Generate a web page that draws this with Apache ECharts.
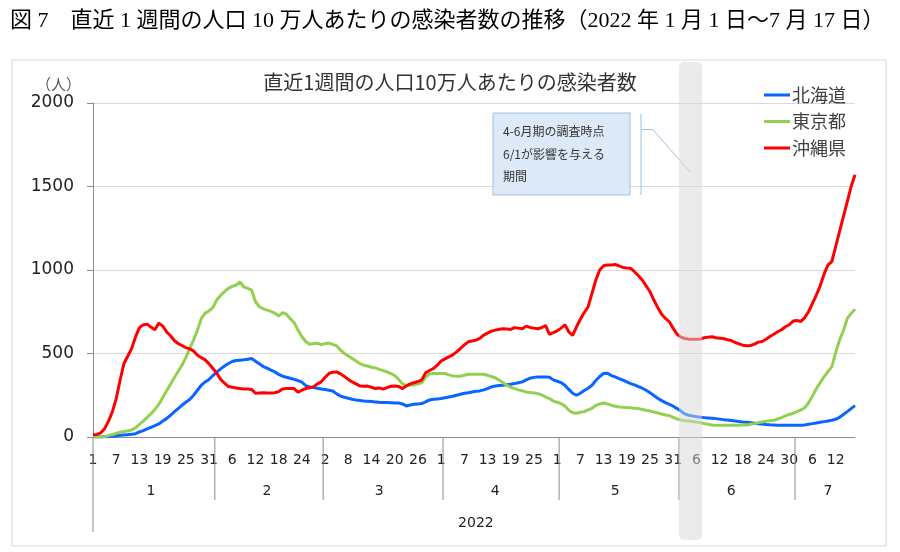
<!DOCTYPE html>
<html><head><meta charset="utf-8">
<script src="https://cdn.jsdelivr.net/npm/echarts@6/dist/echarts.min.js"></script>
<style>html,body{margin:0;padding:0;background:#fff}#c{width:900px;height:552px}</style>
</head><body><div id="c"></div>
<script>
// ---- data ----
const captionText = '図 7　直近 1 週間の人口 10 万人あたりの感染者数の推移（2022 年 1 月 1 日～7 月 17 日）';
const chartTitle = '直近1週間の人口10万人あたりの感染者数';
const yUnit = '（人）';
const monthNames = ['1','2','3','4','5','6','7'];
const monthDays = [31,28,31,30,31,30,17];
const monthLabelDay = [16,15,16,15,16,15,10];
const yearLabel = '2022';
const yearLabelDate = '4/10';
const bandStart = '6/1';
const bandEnd = '6/7';
const noteLines = ['4-6月期の調査時点','6/1が影響を与える','期間'];
const seriesNames = ['北海道','東京都','沖縄県'];
const seriesColors = ['#0a64ff','#92d050','#ff0000'];
const yMin = 0, yMax = 2000, yInterval = 500;

const hokkaido = [0,0,0,1,2,4,7,10,12,14,
16,20,30,38,48,58,68,78,95,110,
130,150,170,190,208,225,250,280,310,330,
345,368,388,408,425,440,452,458,460,462,
466,470,454,438,422,412,400,390,375,364,
358,352,345,338,328,308,300,296,292,288,
284,280,275,258,245,238,232,226,222,219,
216,214,212,210,208,207,206,205,204,204,
198,186,192,196,198,200,210,222,226,228,
230,235,240,244,250,256,262,265,270,274,
276,282,290,300,305,308,310,313,316,320,
325,330,342,352,357,360,360,360,358,342,
334,326,310,285,262,250,262,278,292,310,
338,362,380,382,368,360,350,340,330,320,
312,302,292,280,265,248,232,218,206,196,
184,170,155,138,130,126,122,118,116,114,
112,110,107,104,102,99,96,93,90,88,
86,83,80,78,75,73,72,71,70,70,
70,70,70,71,72,76,80,84,88,92,
96,100,106,118,135,152,170,188];

const tokyo = [0,0,0,2,8,15,22,28,33,37,
42,55,75,95,118,140,165,195,235,275,
315,355,392,430,475,530,580,640,710,742,
755,775,822,848,870,890,902,910,928,898,
890,880,810,780,768,760,752,742,725,744,
735,708,685,640,600,572,556,560,562,552,
560,562,555,546,520,500,485,470,455,440,
430,425,418,414,405,398,390,380,368,345,
318,310,310,312,318,325,358,378,380,380,
380,380,372,366,364,364,370,376,376,376,
376,376,370,362,355,340,325,310,298,290,
282,276,270,266,263,260,252,240,230,215,
208,200,185,160,145,142,148,152,162,172,
188,198,204,198,190,184,180,178,176,175,
172,170,165,160,156,150,144,138,132,128,
118,108,102,98,96,93,90,86,80,76,
72,71,70,70,70,70,70,71,72,72,
76,80,86,90,94,98,100,108,116,126,
135,142,152,162,175,205,245,290,326,360,
392,420,505,580,636,710,740,765];

const okinawa = [14,15,25,50,95,150,230,340,440,485,
530,600,655,672,675,658,642,682,665,630,
608,578,560,548,535,528,515,490,475,462,
438,410,382,345,322,302,298,294,290,288,
288,285,262,264,265,264,264,265,272,288,
290,290,290,268,280,290,295,300,318,330,
358,380,388,390,378,362,345,330,318,306,
304,305,298,290,294,287,296,304,305,303,
290,305,318,325,332,342,385,398,410,430,
455,468,480,492,510,530,552,570,575,580,
590,610,622,634,640,645,648,646,644,655,
652,648,664,656,652,648,655,668,615,625,
636,652,672,630,608,660,705,745,780,860,
940,1000,1026,1030,1030,1033,1025,1015,1012,1010,
990,965,940,905,870,820,775,735,710,690,
650,615,598,590,586,586,586,587,594,598,
600,594,592,590,582,578,566,558,550,546,
548,556,568,572,585,602,615,630,642,660,
672,694,698,692,715,750,800,850,905,975,
1030,1050,1140,1230,1320,1410,1500,1570];

// ---- categories (m/d) built from month lengths ----
const categories = [];
monthDays.forEach((n, m) => { for (let d = 1; d <= n; d++) categories.push((m + 1) + '/' + d); });
const monthStartIdx = [];
monthDays.reduce((acc, n) => { monthStartIdx.push(acc); return acc + n; }, 0);

const SANS = '"DejaVu Sans", "Noto Sans CJK JP", sans-serif';
const CJK = '"Noto Sans CJK JP", sans-serif';

const chart = echarts.init(document.getElementById('c'), null, {renderer: 'canvas'});
const commonX = {
  type: 'category', data: categories, boundaryGap: false, gridIndex: 0, position: 'bottom',
  axisTick: {show: false}, splitLine: {show: false}
};
chart.setOption({
  animation: false,
  backgroundColor: '#ffffff',
  textStyle: {fontFamily: SANS},
  title: [
    {text: captionText, left: 10, top: 10, padding: 0,
     textStyle: {fontFamily: '"Liberation Serif", "Noto Sans CJK JP", serif', fontSize: 22, fontWeight: 'normal', color: '#000'}},
    {text: chartTitle, left: 'center', top: 72, padding: 0,
     textStyle: {fontFamily: CJK, fontSize: 20, fontWeight: 'normal', color: '#333'}}
  ],
  legend: {
    orient: 'vertical', left: 759, top: 81, itemGap: 8.5, itemWidth: 26, itemHeight: 3,
    icon: 'rect', data: seriesNames,
    textStyle: {fontFamily: CJK, fontSize: 18, color: '#404040', padding: [0, 0, 0, -3]}
  },
  grid: {left: 93, right: 45, top: 103, bottom: 115, containLabel: false},
  xAxis: [
    Object.assign({}, commonX, {
      axisLine: {show: true, lineStyle: {color: '#8c8c8c', width: 1}},
      axisLabel: {interval: (i) => i % 6 === 0, formatter: (v) => v.split('/')[1],
                  margin: 16, fontSize: 14, color: '#222', fontFamily: SANS}
    }),
    Object.assign({}, commonX, {
      axisLine: {show: false},
      axisLabel: {interval: (i, v) => { const p = v.split('/'); return +p[1] === monthLabelDay[+p[0] - 1]; },
                  formatter: (v) => monthNames[+v.split('/')[0] - 1],
                  margin: 47, fontSize: 14, color: '#222', fontFamily: SANS}
    }),
    Object.assign({}, commonX, {
      axisLine: {show: false},
      axisLabel: {interval: (i, v) => v === yearLabelDate, formatter: () => yearLabel,
                  margin: 79, fontSize: 14, color: '#222', fontFamily: SANS}
    })
  ],
  yAxis: {
    type: 'value', min: yMin, max: yMax, interval: yInterval,
    name: yUnit, nameLocation: 'end', nameGap: 11,
    nameTextStyle: {fontFamily: CJK, fontSize: 15, color: '#595959', align: 'right', padding: [0, 12, 0, 0]},
    axisLine: {show: true, lineStyle: {color: '#8c8c8c', width: 1}},
    axisTick: {show: true, length: 6, lineStyle: {color: '#8c8c8c'}},
    axisLabel: {fontSize: 17, color: '#222', margin: 19, fontFamily: SANS, formatter: (v) => String(v)},
    splitLine: {lineStyle: {color: '#d9d9d9', width: 1}}
  },
  series: [hokkaido, tokyo, okinawa].map((d, k) => ({
    name: seriesNames[k], type: 'line', data: d, xAxisIndex: 0, symbol: 'none',
    lineStyle: {color: seriesColors[k], width: 3}, itemStyle: {color: seriesColors[k]},
    z: 2 + k
  }))
});

// ---- annotations placed from the axes ----
const px = (i) => chart.convertToPixel({xAxisIndex: 0}, i);
const step = px(1) - px(0);
const yBase = chart.convertToPixel({yAxisIndex: 0}, 0);
const g = [];
g.push({type: 'rect', z: 0, silent: true, shape: {x: 12, y: 60, width: 874, height: 486},
        style: {fill: 'none', stroke: '#d9d9d9', lineWidth: 1}});
// category group separators
g.push({type: 'line', z: 5, shape: {x1: px(0), y1: yBase, x2: px(0), y2: yBase + 95},
        style: {stroke: '#8c8c8c', lineWidth: 1}});
monthStartIdx.slice(1).forEach((idx) => {
  const x = px(idx) + step / 2;
  g.push({type: 'line', z: 5, shape: {x1: x, y1: yBase, x2: x, y2: yBase + 63},
          style: {stroke: '#8c8c8c', lineWidth: 1}});
});
// note box
g.push({type: 'rect', z: 10, shape: {x: 493, y: 113, width: 137, height: 82},
        style: {fill: '#dde9f6', stroke: '#9dc3e6', lineWidth: 1}});
noteLines.forEach((t, k) => {
  g.push({type: 'text', z: 11, style: {text: t, x: 503, y: 131.5 + k * 22.5, verticalAlign: 'middle',
          font: '12px "Noto Sans CJK JP", sans-serif', fill: '#333'}});
});
g.push({type: 'polyline', z: 10, shape: {points: [[641, 114], [641, 195]]}, style: {stroke: '#9dc3e6', lineWidth: 1, fill: 'none'}});
g.push({type: 'polyline', z: 10, shape: {points: [[641, 129.5], [652.7, 129.5], [690.7, 172.7]]}, style: {stroke: '#9dc3e6', lineWidth: 1, fill: 'none'}});
// highlighted band
const bx1 = px(categories.indexOf(bandStart)) + step / 2;
const bx2 = px(categories.indexOf(bandEnd)) + step / 2;
g.push({type: 'rect', z: 100, silent: true, shape: {x: bx1, y: 62, width: bx2 - bx1, height: 478, r: 5},
        style: {fill: 'rgba(215,215,215,0.5)'}});
chart.setOption({graphic: g});
</script>
</body></html>
